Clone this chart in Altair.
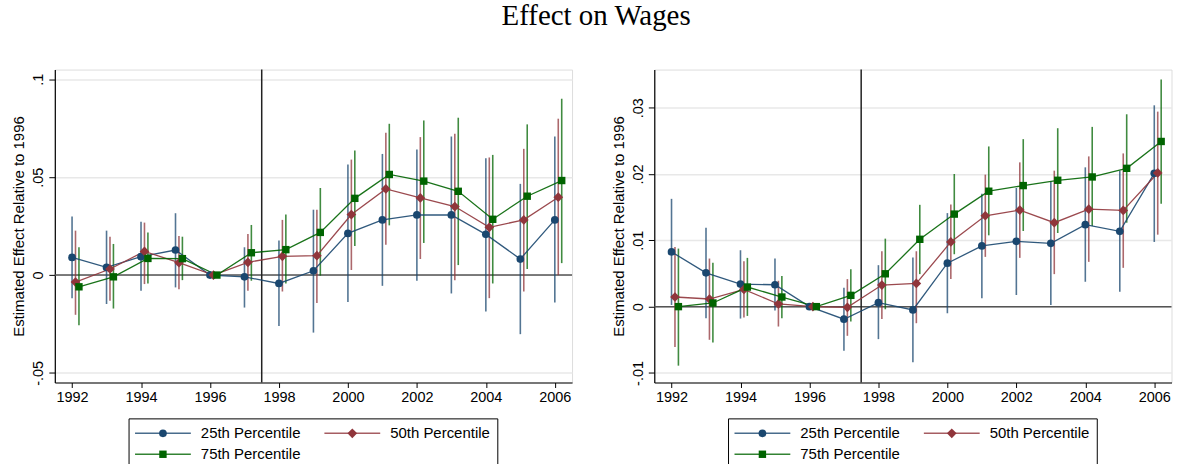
import altair as alt
import pandas as pd

# ---------------- data ----------------
years = list(range(1992, 2007))
series_names = ["25th Percentile", "50th Percentile", "75th Percentile"]
x_offsets = [0.0, 0.1, 0.2]
marker_colors = ["#1a476f", "#90353b", "#006400"]
marker_shapes = ["circle", "diamond", "square"]
marker_sizes = [60, 95, 55]
break_year = [1997.5]

left_y_ticks = [-0.05, 0.0, 0.05, 0.1]
left_y_domain = [-0.0549, 0.105]
right_y_ticks = [-0.01, 0.0, 0.01, 0.02, 0.03]
right_y_domain = [-0.01144, 0.03574]

# Left panel
L25_est = [0.0090, 0.0039, 0.0094, 0.0128, 0.0, -0.0009, -0.0043, 0.0022, 0.0213, 0.0282, 0.0307, 0.0307, 0.0208, 0.0082, 0.0282]
L25_lo = [-0.0118, -0.0148, -0.0080, -0.0063, -0.0005, -0.0166, -0.0260, -0.0294, -0.0137, -0.0055, -0.0029, -0.0094, -0.0186, -0.0302, -0.0140]
L25_hi = [0.0299, 0.0227, 0.0273, 0.0316, 0.0005, 0.0142, 0.0176, 0.0334, 0.0565, 0.0619, 0.0642, 0.0708, 0.0597, 0.0466, 0.0708]

L50_est = [-0.0036, 0.0031, 0.0121, 0.0063, 0.0, 0.0065, 0.0096, 0.0099, 0.0309, 0.0440, 0.0394, 0.0350, 0.0244, 0.0282, 0.0398]
L50_lo = [-0.0203, -0.0131, -0.0046, -0.0073, -0.0005, -0.0080, -0.0084, -0.0143, 0.0026, 0.0155, 0.0082, -0.0027, -0.0118, -0.0084, 0.0000]
L50_hi = [0.0227, 0.0196, 0.0268, 0.0200, 0.0005, 0.0210, 0.0282, 0.0334, 0.0590, 0.0727, 0.0705, 0.0722, 0.0601, 0.0645, 0.0799]

L75_est = [-0.0060, -0.0009, 0.0085, 0.0084, 0.0, 0.0114, 0.0130, 0.0218, 0.0392, 0.0514, 0.0480, 0.0428, 0.0285, 0.0403, 0.0483]
L75_lo = [-0.0256, -0.0171, -0.0043, -0.0026, -0.0005, -0.0029, -0.0043, -0.0003, 0.0148, 0.0254, 0.0164, 0.0051, -0.0043, 0.0031, 0.0061]
L75_hi = [0.0142, 0.0159, 0.0217, 0.0196, 0.0005, 0.0256, 0.0309, 0.0445, 0.0637, 0.0773, 0.0790, 0.0804, 0.0614, 0.0770, 0.0901]

# Right panel
R25_est = [0.00825, 0.0051, 0.0034, 0.0033, 0.0, -0.0019, 0.0006, -0.0005, 0.00655, 0.00915, 0.00985, 0.00955, 0.01235, 0.01135, 0.0201]
R25_lo = [0.00025, -0.00175, -0.0018, -0.0006, -0.0002, -0.00665, -0.0049, -0.0084, -0.0010, 0.00125, 0.00175, 0.00025, 0.00375, 0.00225, 0.00975]
R25_hi = [0.01625, 0.0119, 0.0085, 0.00725, 0.0002, 0.00285, 0.00625, 0.0074, 0.0141, 0.0170, 0.0179, 0.01885, 0.0210, 0.0205, 0.03035]

R50_est = [0.00145, 0.00115, 0.0026, 0.0004, 0.0, -0.0001, 0.00325, 0.0035, 0.00975, 0.0137, 0.01455, 0.01265, 0.0147, 0.0145, 0.02015]
R50_lo = [-0.0061, -0.0050, -0.00165, -0.0030, -0.0002, -0.0044, -0.00185, -0.0025, 0.00415, 0.0075, 0.00735, 0.0049, 0.00675, 0.00585, 0.01085]
R50_hi = [0.0090, 0.00725, 0.00685, 0.0039, 0.0002, 0.00415, 0.00835, 0.00835, 0.0154, 0.0199, 0.02175, 0.0205, 0.02265, 0.0231, 0.0294]

R75_est = [0.0, 0.00055, 0.00295, 0.00145, 0.0, 0.0017, 0.00495, 0.01015, 0.01395, 0.0174, 0.01825, 0.01905, 0.01955, 0.02085, 0.0249]
R75_lo = [-0.0089, -0.0054, -0.0014, -0.00175, -0.0002, -0.00225, -0.0004, 0.0049, 0.0079, 0.01075, 0.0114, 0.0111, 0.01215, 0.01265, 0.0155]
R75_hi = [0.00875, 0.0066, 0.00735, 0.0046, 0.0002, 0.00565, 0.01025, 0.01535, 0.0200, 0.02415, 0.02525, 0.0269, 0.0271, 0.0290, 0.03425]

# legend layout (pixel units relative to the plot area; legend sits below the x axis)
legend_entry_col = [0, 1, 0]
legend_entry_row = [0, 0, 1]
legend_col_x = [80.5, 270.5]
legend_row_y = [365.0, 386.0]
legend_box = {"x": 74.5, "x2": 444.5, "y": 350.5, "y2": 401.0}
legend_line_len = 56
legend_text_gap = 10

PLOT_W, PLOT_H = 519, 314
FONT = "Liberation Sans"


def build_df(ests, los, his):
    rows = []
    for name, off, e, lo, hi in zip(series_names, x_offsets, ests, los, his):
        for yr, ev, lv, hv in zip(years, e, lo, hi):
            rows.append({"series": name, "x": yr + off, "est": ev, "lo": lv, "hi": hv})
    return pd.DataFrame(rows)


def y_label_expr():
    return ("datum.value == 0 ? '0' : (datum.value < 0 ? '-' : '') + "
            "replace(format(abs(datum.value), '.2~f'), '0.', '.')")


def make_legend():
    ldf = pd.DataFrame({
        "series": series_names,
        "lx": [legend_col_x[c] for c in legend_entry_col],
        "ly": [legend_row_y[r] for r in legend_entry_row],
    })
    ldf["lx2"] = ldf["lx"] + legend_line_len
    ldf["mx"] = ldf["lx"] + legend_line_len / 2
    ldf["tx"] = ldf["lx"] + legend_line_len + legend_text_gap
    px = alt.Scale(domain=[0, PLOT_W], range=[0, PLOT_W])
    py = alt.Scale(domain=[0, PLOT_H], range=[0, PLOT_H])
    color = alt.Color("series:N", scale=alt.Scale(domain=series_names, range=marker_colors), legend=None)
    lbase = alt.Chart(ldf)

    box = alt.Chart(pd.DataFrame([legend_box])).mark_rect(
        fill="white", stroke="black", strokeWidth=1).encode(
        x=alt.X("x:Q", scale=px, axis=None), x2="x2:Q",
        y=alt.Y("y:Q", scale=py, axis=None), y2="y2:Q")
    lines = lbase.mark_rule(strokeWidth=1.5, opacity=0.8).encode(
        x=alt.X("lx:Q", scale=px, axis=None), x2="lx2:Q",
        y=alt.Y("ly:Q", scale=py, axis=None), color=color)
    pts = []
    for name, shp, sz, col in zip(series_names, marker_shapes, marker_sizes, marker_colors):
        pts.append(lbase.transform_filter(alt.datum.series == name)
                   .mark_point(filled=True, shape=shp, size=sz, opacity=1, color=col)
                   .encode(x=alt.X("mx:Q", scale=px, axis=None), y=alt.Y("ly:Q", scale=py, axis=None)))
    txt = lbase.mark_text(align="left", baseline="middle", font=FONT, fontSize=15, color="black").encode(
        x=alt.X("tx:Q", scale=px, axis=None), y=alt.Y("ly:Q", scale=py, axis=None), text="series:N")
    return alt.layer(box, lines, *pts, txt)


def make_panel(df, y_domain, y_ticks):
    xs = alt.Scale(domain=[1991.5, 2006.5], nice=False, zero=False)
    ys = alt.Scale(domain=y_domain, nice=False, zero=False)
    x_axis = alt.Axis(values=years, labelExpr="datum.value % 2 == 0 ? datum.label : ''",
                      format="d", title=None, grid=False, tickSize=5, labelPadding=3,
                      labelFontSize=14.5, labelFont=FONT, labelColor="black",
                      domainColor="black", tickColor="black", domainWidth=1.2, tickWidth=1)
    y_axis = alt.Axis(values=y_ticks, labelExpr=y_label_expr(),
                      title="Estimated Effect Relative to 1996", titleFont=FONT,
                      titleFontSize=15, titleFontWeight="normal", titleColor="black",
                      titlePadding=4,
                      labelAngle=270, labelAlign="center", labelBaseline="bottom",
                      labelFontSize=14.5, labelFont=FONT, labelColor="black", labelPadding=3,
                      grid=True, gridColor="#e8e8e8", gridWidth=1.5,
                      tickSize=6, domainColor="black", tickColor="black",
                      domainWidth=1.2, tickWidth=1)

    color = alt.Color("series:N", scale=alt.Scale(domain=series_names, range=marker_colors), legend=None)
    base = alt.Chart(df)

    zero = alt.Chart(pd.DataFrame({"y": [0.0]})).mark_rule(color="#555555", strokeWidth=1.5).encode(
        y=alt.Y("y:Q", scale=ys, axis=y_axis))
    vline = alt.Chart(pd.DataFrame({"x": break_year})).mark_rule(color="#222222", strokeWidth=1.5).encode(
        x=alt.X("x:Q", scale=xs, axis=x_axis))

    ci = base.mark_rule(strokeWidth=1.6, opacity=0.75).encode(
        x=alt.X("x:Q", scale=xs, axis=x_axis),
        y=alt.Y("lo:Q", scale=ys, axis=y_axis),
        y2="hi:Q",
        color=color)
    line = base.mark_line(strokeWidth=1.3, opacity=0.9).encode(
        x=alt.X("x:Q", scale=xs),
        y=alt.Y("est:Q", scale=ys),
        color=color, detail="series:N")

    point_layers = []
    for name, shp, sz, col in zip(series_names, marker_shapes, marker_sizes, marker_colors):
        point_layers.append(
            base.transform_filter(alt.datum.series == name)
            .mark_point(filled=True, shape=shp, size=sz, opacity=1, color=col)
            .encode(x=alt.X("x:Q", scale=xs), y=alt.Y("est:Q", scale=ys)))

    data_layers = alt.layer(zero, vline, ci, line, *point_layers)
    return alt.layer(data_layers, make_legend()).resolve_scale(
        x="independent", y="independent").properties(width=PLOT_W, height=PLOT_H)


left_df = build_df([L25_est, L50_est, L75_est], [L25_lo, L50_lo, L75_lo], [L25_hi, L50_hi, L75_hi])
right_df = build_df([R25_est, R50_est, R75_est], [R25_lo, R50_lo, R75_lo], [R25_hi, R50_hi, R75_hi])

left = make_panel(left_df, left_y_domain, left_y_ticks)
right = make_panel(right_df, right_y_domain, right_y_ticks)

chart = alt.hconcat(left, right, spacing=36.5).properties(
    title=alt.Title("Effect on Wages", font="Liberation Serif", fontSize=29,
                    fontWeight="normal", color="black", anchor="middle", offset=37, dx=4),
    padding={"left": 11, "top": 1, "right": 5, "bottom": 5},
).configure_view(stroke=None).configure(background="white")

chart.save("out.html", embed_options={"renderer": "svg", "actions": False})
